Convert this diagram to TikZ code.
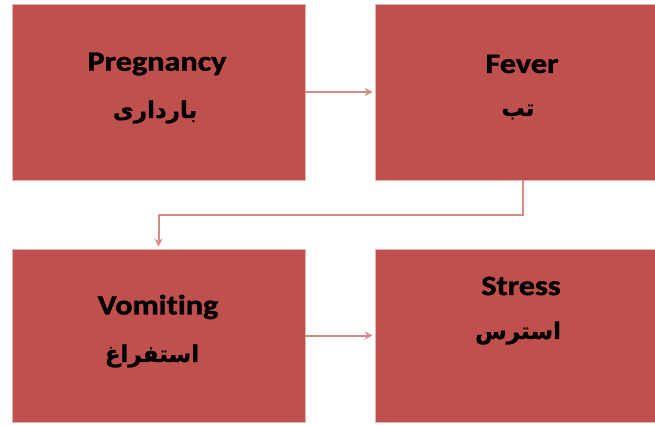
\documentclass[tikz,border=0pt]{standalone}
\usepackage{fontspec}
\setmainfont{Carlito}[Ligatures=NoCommon, BoldFeatures={FakeBold=1.2}]
\newfontfamily\arabicfont[Script=Arabic, BoldFeatures={FakeBold=0.8}]{DejaVu Sans}
\TeXXeTstate=1
\usetikzlibrary{arrows.meta}
\definecolor{boxred}{HTML}{C0504D}
\definecolor{boxedge}{HTML}{E8B4B2}
\definecolor{linkred}{HTML}{D98A88}
\newcommand\widen[1]{\scalebox{1.15}[1]{#1}}
\tikzset{
  box/.style={rectangle, fill=boxred, draw=boxedge, line width=0.8pt, inner sep=0pt},
  entxt/.style={font=\fontsize{28}{30}\selectfont\bfseries, text=black, inner sep=0pt},
  artxt/.style={font=\arabicfont\fontsize{23}{26}\selectfont\bfseries, text=black, inner sep=0pt},
  conn/.style={draw=linkred, line width=2pt, -{Stealth[length=8pt,width=8pt]}, shorten >=2pt}
}
\begin{document}
\begin{tikzpicture}[x=1pt,y=-1pt]
\useasboundingbox (0,0) rectangle (655,425);
\node[box, minimum width=293, minimum height=176] (p) at (158.5,92) {};
\node[box, minimum width=282, minimum height=176] (f) at (516,92) {};
\node[box, minimum width=293, minimum height=173] (v) at (158.5,335.5) {};
\node[box, minimum width=282, minimum height=173] (s) at (516,335.5) {};
\node[entxt] (pt) at (157,64) {\widen{Pregnancy}};
\node[artxt] (pa) at (155,112) {\beginR بارداری\endR};
\node[entxt] (ft) at (522,64) {\widen{Fever}};
\node[artxt] (fa) at (518,112) {\beginR تب\endR};
\node[entxt] (vt) at (158,307) {\widen{Vomiting}};
\node[artxt] (va) at (152,356) {\beginR استفراغ\endR};
\node[entxt] (st) at (521,286) {\widen{Stress}};
\node[artxt] (sa) at (518,333) {\beginR استرس\endR};
\draw[conn] (p.east) -- (f.west);
\draw[conn] ([xshift=7]f.south) -- ++(0,35) -| (v.north);
\draw[conn] (v.east) -- (s.west);
\end{tikzpicture}
\end{document}
